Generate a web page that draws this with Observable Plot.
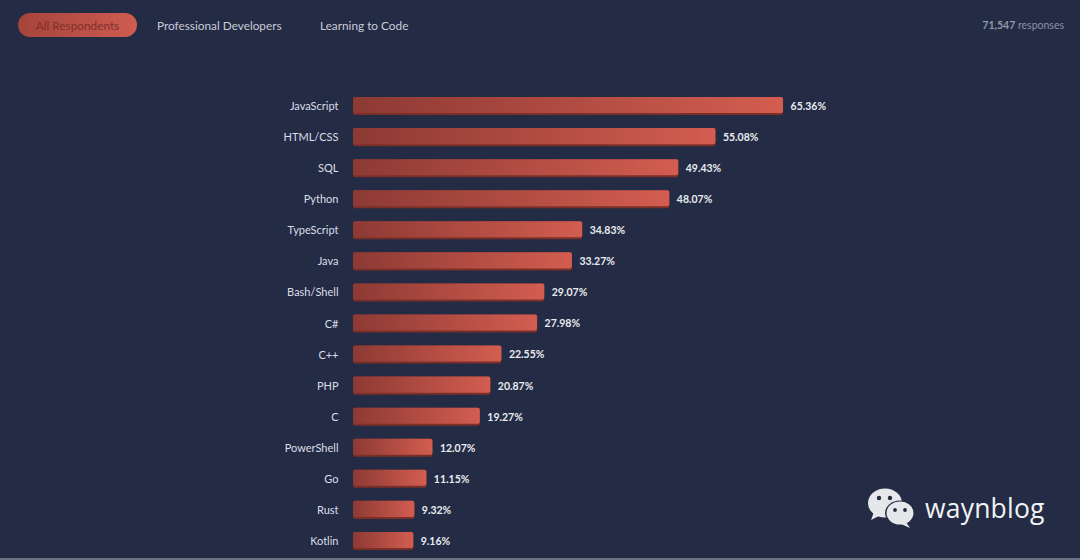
<!DOCTYPE html>
<html>
<head>
<meta charset="utf-8">
<script src="https://cdn.jsdelivr.net/npm/d3@7"></script>
<script src="https://cdn.jsdelivr.net/npm/@observablehq/plot@0.6"></script>
<style>
  html, body { margin: 0; padding: 0; background: #242b45; width: 1080px; height: 560px; overflow: hidden; }
  body { position: relative; font-family: "Source Sans Pro", Lato, "Open Sans", sans-serif; }
  #header { position: relative; height: 50px; }
  .pill { position: absolute; left: 18px; top: 13px; width: 119px; height: 24px; border-radius: 12px;
          background: linear-gradient(90deg, #a5443c, #cf5c50); color: #80302a; font-size: 11.8px;
          line-height: 25px; text-align: center; }
  .tab { position: absolute; top: 13px; line-height: 25px; font-size: 11.8px; color: #c9ccd8; }
  #resp { position: absolute; right: 16px; top: 13px; line-height: 25px; font-size: 10.5px; color: #8b91a5; }
  #resp b { font-weight: 700; color: #9398aa; }
  #wm { position: absolute; left: 866px; top: 486px; display: flex; align-items: center; }
  #wm span { font-family: "Open Sans", sans-serif; font-size: 26.5px; color: #f2f3f6; margin-left: 7px; letter-spacing: 0.2px; }
  #bottomline { position: absolute; left: 0; bottom: 0; width: 1080px; height: 2px; background: #6d7284; }
</style>
</head>
<body>
<div id="header">
  <div class="pill">All Respondents</div>
  <div class="tab" style="left:157px">Professional Developers</div>
  <div class="tab" style="left:320px">Learning to Code</div>
  <div id="resp"><b>71,547</b> responses</div>
</div>
<div id="chart"></div>
<div id="wm">
  <svg width="52" height="44" viewBox="0 0 52 44">
    <ellipse cx="19" cy="17" rx="17" ry="14.5" fill="#e6e7ea"/>
    <path d="M8 26 L5 34 L15 29 Z" fill="#e6e7ea"/>
    <ellipse cx="34" cy="27" rx="15" ry="12.5" fill="#242b45"/>
    <ellipse cx="34" cy="27" rx="13.5" ry="11.5" fill="#e6e7ea"/>
    <path d="M40 36 L44 42 L35 38 Z" fill="#e6e7ea"/>
    <circle cx="13" cy="12" r="2.2" fill="#242b45"/>
    <circle cx="24" cy="12" r="2.2" fill="#242b45"/>
    <circle cx="29" cy="24" r="1.9" fill="#242b45"/>
    <circle cx="39" cy="24" r="1.9" fill="#242b45"/>
  </svg>
  <span>waynblog</span>
</div>
<div id="bottomline"></div>
<script>
const languages = ["JavaScript", "HTML/CSS", "SQL", "Python", "TypeScript", "Java", "Bash/Shell", "C#", "C++", "PHP", "C", "PowerShell", "Go", "Rust", "Kotlin"];
const shares = [65.36, 55.08, 49.43, 48.07, 34.83, 33.27, 29.07, 27.98, 22.55, 20.87, 19.27, 12.07, 11.15, 9.32, 9.16];

const data = languages.map((lang, i) => ({lang, share: shares[i]}));

const plot = Plot.plot({
  width: 1080,
  height: 513,
  marginLeft: 353,
  marginRight: 69,
  marginTop: 34,
  marginBottom: 0,
  style: {background: "transparent", fontFamily: "\"Source Sans Pro\", Lato, \"Open Sans\", sans-serif"},
  x: {domain: [0, 100], axis: null},
  y: {domain: languages, padding: 0.42, round: false, label: null},
  marks: [
    Plot.axisY({tickSize: 0, tickPadding: 15, fontSize: 11, color: "#dcdee6", label: null}),
    Plot.barX(data, {x: "share", y: "lang", fill: "#7c2f29", rx: 2}),
    Plot.barX(data, {x: "share", y: "lang", fill: "url(#barGrad)", insetBottom: 2, rx: 2}),
    Plot.text(data, {x: "share", y: "lang", text: d => d.share.toFixed(2) + "%", dx: 7, textAnchor: "start",
      fill: "#e9ebf0", fontWeight: "bold", fontSize: 10.5})
  ]
});

const svg = d3.select(plot);
const defs = svg.insert("defs", ":first-child");
const g = defs.append("linearGradient").attr("id", "barGrad").attr("x1", "0").attr("x2", "1").attr("y1", "0").attr("y2", "0");
g.append("stop").attr("offset", "0%").attr("stop-color", "#8d3a34");
g.append("stop").attr("offset", "100%").attr("stop-color", "#d35d50");

document.getElementById("chart").appendChild(plot);
</script>
</body>
</html>
